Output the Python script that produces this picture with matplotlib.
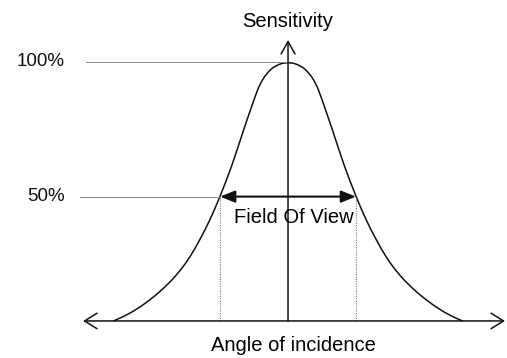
import matplotlib.pyplot as plt
from matplotlib.path import Path
from matplotlib.patches import PathPatch

# sensitivity curve (angle in degrees, sensitivity in %)
angle = [-77.0, -73.0, -68.0, -61.0, -53.0, -47.0, -43.0, -38.8, -34.4, -30.0, -24.7,
         -19.9, -14.6, -12.4, -9.3, -5.3, 0,
         5.3, 9.3, 12.4, 14.6, 19.9, 24.7, 30.0, 34.4, 38.8, 43.0, 47.0, 53.0, 61.0,
         68.0, 73.0, 77.0]
sensitivity = [0, 1.5, 3.8, 8, 14, 20, 25, 31.5, 39, 48, 60, 73, 86.5, 91.5, 95.8, 98.8,
               100,
               98.8, 95.8, 91.5, 86.5, 73, 60, 48, 39, 31.5, 25, 20, 14, 8, 3.8, 1.5, 0]

full_level = 100     # where "100%" sits
half_level = 48      # where "50%" sits on the drawing
level_labels = ["100%", "50%"]
fov_half = 30

plt.rcParams['font.family'] = ['Liberation Sans', 'DejaVu Sans']

fig = plt.figure(figsize=(5.07, 3.58), dpi=100)
ax = fig.add_axes([0, 0, 1, 1])
ax.set_xlim(-127.06, 96.6)
ax.set_ylim(-14.3, 123.9)
ax.axis('off')

# smooth curve: quadratic beziers through the mid points of the read values
pts = list(zip(angle, sensitivity))
verts = [pts[0]]
codes = [Path.MOVETO]
for i in range(1, len(pts) - 1):
    mid = ((pts[i][0] + pts[i + 1][0]) / 2, (pts[i][1] + pts[i + 1][1]) / 2)
    verts += [pts[i], mid]
    codes += [Path.CURVE3, Path.CURVE3]
verts.append(pts[-1])
codes.append(Path.LINETO)
ax.add_patch(PathPatch(Path(verts, codes), fill=False, edgecolor='#111111', lw=1.1))

# reference lines for 100% and 50%
ax.plot([-89.1, 0], [full_level, full_level], color='#8a8a8a', lw=0.7)
ax.plot([-91.8, -fov_half], [half_level, half_level], color='#8a8a8a', lw=0.7)
for lv, lab in zip([full_level, half_level], level_labels):
    ax.text(-98.4, lv, lab, ha='right', va='center', fontsize=13.5, color='#111111')

# dotted drops at the half-power points
for xx in (-fov_half, fov_half):
    ax.plot([xx, xx], [0, half_level], color='#777777', lw=0.8, ls=(0, (1, 1.2)))

# axes with arrow heads
arrow_kw = dict(color='#111111', lw=1.1, shrinkA=0, shrinkB=0, mutation_scale=20)
ax.annotate('', xy=(95.7, 0), xytext=(-90.4, 0),
            arrowprops=dict(arrowstyle='<->,head_length=0.45,head_width=0.28', **arrow_kw))
ax.annotate('', xy=(0, 108.5), xytext=(0, 0),
            arrowprops=dict(arrowstyle='->,head_length=0.45,head_width=0.25', **arrow_kw))

# field of view arrow
ax.annotate('', xy=(fov_half, half_level), xytext=(-fov_half, half_level),
            arrowprops=dict(arrowstyle='<|-|>,head_length=0.45,head_width=0.18',
                            color='#111111', lw=1.5, shrinkA=0, shrinkB=0,
                            mutation_scale=20))

ax.text(2.6, 39.8, "Field Of View", ha='center', va='center', fontsize=14.5)
ax.text(0, 115.5, "Sensitivity", ha='center', va='center', fontsize=14.5)
ax.text(2.6, -9.3, "Angle of incidence", ha='center', va='center', fontsize=14.5)

fig.savefig('out.png', dpi=100)
